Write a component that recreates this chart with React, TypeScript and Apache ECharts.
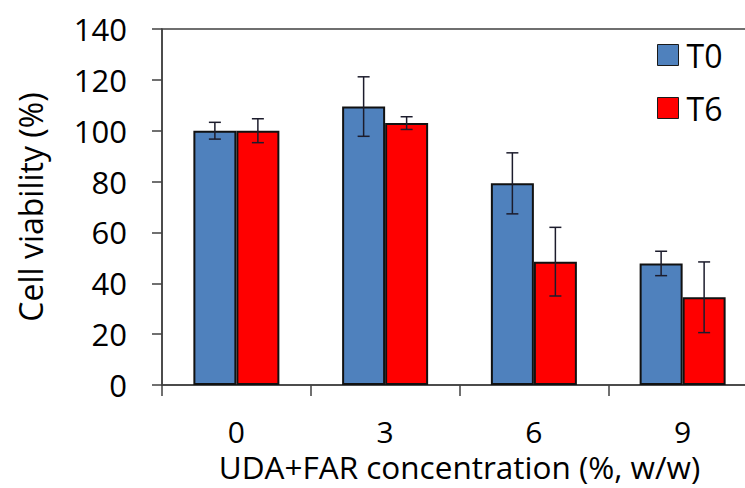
import React, { useEffect, useRef } from "react";
import * as echarts from "echarts";

const categories = ["0", "3", "6", "9"];
const seriesNames = ["T0", "T6"];
const t0Values = [100, 109.5, 79.3, 47.8];
const t0Errors = [3.3, 11.7, 12, 4.8];
const t6Values = [100, 103, 48.5, 34.5];
const t6Errors = [4.7, 2.5, 13.5, 13.9];
const yTicks = { min: 0, max: 140, interval: 20 };
const colors = ["#4f81bd", "#ff0000"];

const FONT = "'Open Sans', sans-serif";
const BAR_W = 43;

function errorSeries(values: number[], errors: number[], sign: number) {
  return {
    type: "custom",
    z: 10,
    silent: true,
    data: values.map((v, i) => [i, v - errors[i], v + errors[i]]),
    renderItem: (params: any, api: any) => {
      const idx = api.value(0);
      const lo = api.coord([idx, api.value(1)]);
      const hi = api.coord([idx, api.value(2)]);
      const x = lo[0] + (sign * BAR_W) / 2;
      const cap = 6;
      const style = { stroke: "#1c1c2c", lineWidth: 1.5 };
      return {
        type: "group",
        children: [
          { type: "line", shape: { x1: x, y1: lo[1], x2: x, y2: hi[1] }, style },
          { type: "line", shape: { x1: x - cap, y1: lo[1], x2: x + cap, y2: lo[1] }, style },
          { type: "line", shape: { x1: x - cap, y1: hi[1], x2: x + cap, y2: hi[1] }, style },
        ],
      };
    },
    encode: { x: 0, y: [1, 2] },
  };
}

export default function App() {
  const ref = useRef<HTMLDivElement>(null);
  useEffect(() => {
    if (!ref.current) return;
    const chart = echarts.init(ref.current, null, { renderer: "svg" });
    chart.setOption({
      animation: false,
      backgroundColor: "#ffffff",
      textStyle: { fontFamily: FONT },
      grid: {
        left: 162,
        top: 29,
        width: 595,
        height: 356,
        outerBoundsMode: "none",
        containLabel: false,
        show: true,
        borderColor: "#404040",
        borderWidth: 1.5,
      },
      legend: {
        orient: "vertical",
        left: 652,
        top: 34,
        itemWidth: 21,
        itemHeight: 21,
        itemGap: 21,
        data: seriesNames,
        icon: "rect",
        itemStyle: { borderColor: "#1a1a1a", borderWidth: 1 },
        textStyle: {
          fontFamily: FONT,
          fontSize: 32,
          color: "#000",
          lineHeight: 21,
          padding: [0, 0, 0, 3],
        },
      },
      xAxis: {
        type: "category",
        data: categories,
        name: "UDA+FAR concentration (%, w/w)",
        nameLocation: "middle",
        nameGap: 63,
        nameTextStyle: { fontFamily: FONT, fontSize: 31.5, color: "#000", lineHeight: 24 },
        axisLine: { lineStyle: { color: "#404040", width: 1.5 } },
        axisTick: { show: true, length: 11, lineStyle: { color: "#404040", width: 1.5 } },
        axisLabel: { margin: 34, fontFamily: FONT, fontSize: 30, color: "#000", lineHeight: 24 },
      },
      yAxis: {
        type: "value",
        min: yTicks.min,
        max: yTicks.max,
        interval: yTicks.interval,
        name: "Cell viability (%)",
        nameLocation: "middle",
        nameGap: 116,
        nameTextStyle: { fontFamily: FONT, fontSize: 32, color: "#000" },
        axisLine: { show: true, lineStyle: { color: "#404040", width: 1.5 } },
        axisTick: { show: true, length: 10, lineStyle: { color: "#404040", width: 1.5 } },
        splitLine: { show: false },
        axisLabel: { margin: 35, fontFamily: FONT, fontSize: 31, color: "#000" },
      },
      series: [
        {
          name: seriesNames[0],
          type: "bar",
          data: t0Values,
          barWidth: BAR_W,
          barGap: "0%",
          itemStyle: { color: colors[0], borderColor: "#111", borderWidth: 2 },
        },
        {
          name: seriesNames[1],
          type: "bar",
          data: t6Values,
          barWidth: BAR_W,
          barGap: "0%",
          itemStyle: { color: colors[1], borderColor: "#111", borderWidth: 2 },
        },
        errorSeries(t0Values, t0Errors, -1),
        errorSeries(t6Values, t6Errors, 1),
      ],
    });
    return () => chart.dispose();
  }, []);
  return (
    <div
      ref={ref}
      style={{ position: "fixed", left: 0, top: 0, width: 745, height: 488, background: "#fff" }}
    />
  );
}
